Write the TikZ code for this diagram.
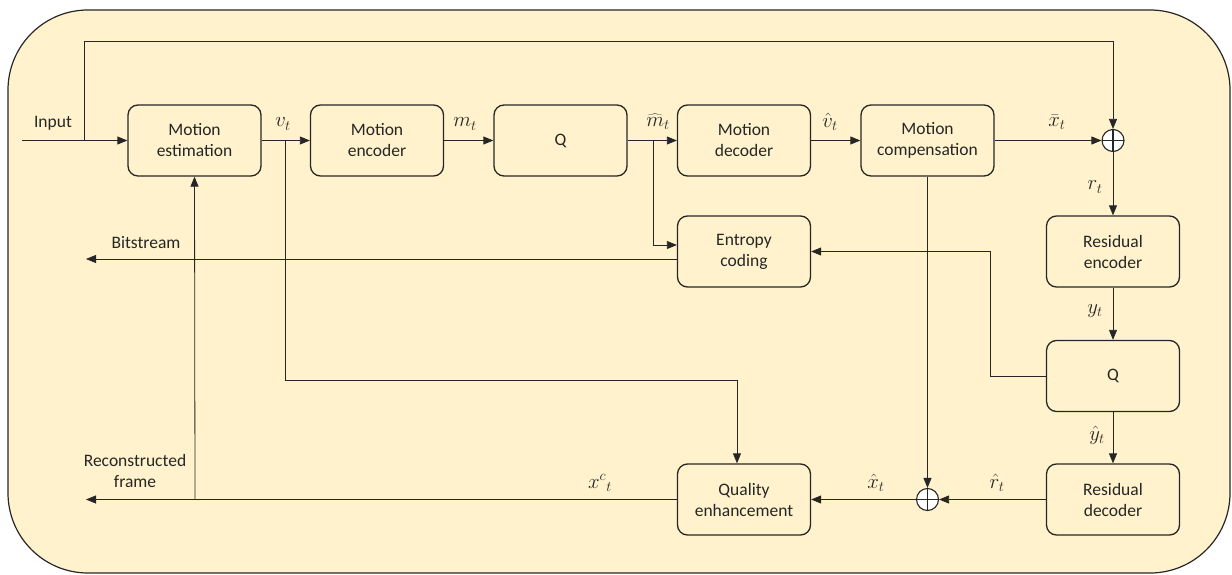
\documentclass[tikz,border=0pt]{standalone}
\usepackage{fontspec}
\setmainfont{Carlito}
\usetikzlibrary{arrows.meta}
\definecolor{panel}{RGB}{255,242,204}
\definecolor{ink}{RGB}{38,38,38}
\tikzset{
  blk/.style={draw=ink,line width=1.3pt,rounded corners=10pt,fill=panel,
    minimum width=133pt,minimum height=71pt,align=center,
    font=\fontsize{17.5}{21}\selectfont,text=ink},
  sumnode/.style={draw=ink,line width=1.1pt,circle,fill=white,minimum size=22pt,inner sep=0pt,
    path picture={\draw[ink,line width=1.1pt] (path picture bounding box.north) -- (path picture bounding box.south)
      (path picture bounding box.west) -- (path picture bounding box.east);}},
  arr/.style={draw=ink,line width=0.8pt,-{Triangle[length=10pt,width=8pt]}},
  lbl/.style={inner sep=0pt,text=ink,font=\fontsize{17.5}{21}\selectfont,align=center},
  mlbl/.style={inner sep=0pt,text=ink,font=\fontsize{21}{24}\selectfont},
}
\begin{document}
\begin{tikzpicture}[x=1pt,y=-1pt]
\path[use as bounding box] (0,0) rectangle (1232,575);
\path[fill=panel,draw=ink,line width=1.2pt,rounded corners=80pt] (8,10) rectangle (1230,573);
% top row
\node[blk] (me) at (194.5,140.5) {Motion\\estimation};
\node[blk] (menc) at (377,140.5) {Motion\\encoder};
\node[blk] (q1) at (560.5,140.5) {Q};
\node[blk] (mdec) at (744,140.5) {Motion\\decoder};
\node[blk] (mc) at (927.5,140.5) {Motion\\compensation};
\node[sumnode] (s1) at (1113,140.5) {};
% middle / right column
\node[blk] (ec) at (744,251.5) {Entropy\\coding};
\node[blk] (renc) at (1113,251.5) {Residual\\encoder};
\node[blk] (q2) at (1113,376) {Q};
\node[blk] (rdec) at (1113,499.5) {Residual\\decoder};
\node[sumnode] (s2) at (927.5,499.5) {};
\node[blk] (qe) at (744,499.5) {Quality\\enhancement};
% free ends and branch points
\coordinate (in) at (22,140.5);
\coordinate (topsplit) at (84,140.5);
\coordinate (vsplit) at (285,140.5);
\coordinate (msplit) at (653,140.5);
\coordinate (bs) at (86,259);
\coordinate (rf) at (86,499.5);
\coordinate (fb) at (195,499.5);
% labels
\node[lbl] (linput) at (53,123) {Input};
\node[lbl] (lbits) at (146,243) {Bitstream};
\node[lbl] (lrec) at (135,471) {Reconstructed\\frame};
\node[mlbl] (lv) at (283,124) {$v_t$};
\node[mlbl] (lm) at (465,124) {$m_t$};
\node[mlbl] (lmh) at (658,122) {$\widehat{m}_t$};
\node[mlbl] (lvh) at (830,122) {$\hat{v}_t$};
\node[mlbl] (lxb) at (1057,122) {$\bar{x}_t$};
\node[mlbl] (lr) at (1095,187) {$r_t$};
\node[mlbl] (ly) at (1095,311) {$y_t$};
\node[mlbl] (lyh) at (1097,435) {$\hat{y}_t$};
\node[mlbl] (lrh) at (997,483) {$\hat{r}_t$};
\node[mlbl] (lxh) at (876,483) {$\hat{x}_t$};
\node[mlbl] (lxc) at (600,483) {$x^{c}{}_{t}$};
% connectors
\draw[arr] (in) -- (me.west);
\draw[arr] (topsplit) -- ++(0,-99.5) -| (s1.north);
\draw[arr] (me.east) -- (menc.west);
\draw[arr] (menc.east) -- (q1.west);
\draw[arr] (q1.east) -- (mdec.west);
\draw[arr] (mdec.east) -- (mc.west);
\draw[arr] (mc.east) -- (s1.west);
\draw[arr] (vsplit) -- (vsplit |- 0,380) -| ([xshift=-7pt]qe.north);
\draw[arr] (msplit) |- ([yshift=6.5pt]ec.west);
\draw[arr] (s1.south) -- (renc.north);
\draw[arr] (renc.south) -- (q2.north);
\draw[arr] (q2.west) -- ++(-55,0) |- (ec.east);
\draw[arr] ([yshift=-7.5pt]ec.west) -- (bs);
\draw[arr] (q2.south) -- (rdec.north);
\draw[arr] (mc.south) -- (s2.north);
\draw[arr] (rdec.west) -- (s2.east);
\draw[arr] (s2.west) -- (qe.east);
\draw[arr] (qe.west) -- (rf);
\draw[arr] (fb) -- (me.south);
\end{tikzpicture}
\end{document}
